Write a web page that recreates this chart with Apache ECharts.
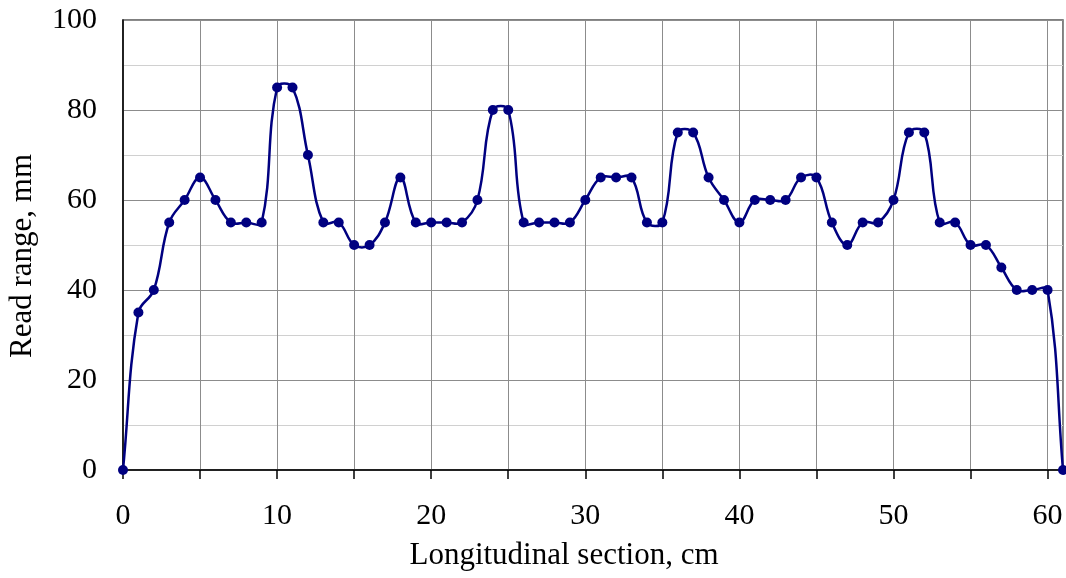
<!DOCTYPE html>
<html>
<head>
<meta charset="utf-8">
<script src="https://cdn.jsdelivr.net/npm/echarts@6/dist/echarts.min.js"></script>
<style>
  html, body { margin: 0; padding: 0; background: #fff; }
  #chart { width: 1066px; height: 578px; }
</style>
</head>
<body>
<div id="chart"></div>
<script>
// Read range measured along the longitudinal section (cm -> mm)
const positions = [
  0, 1, 2, 3, 4, 5, 6, 7, 8, 9, 10, 11, 12, 13, 14, 15, 16, 17, 18, 19, 20,
  21, 22, 23, 24, 25, 26, 27, 28, 29, 30, 31, 32, 33, 34, 35, 36, 37, 38, 39, 40,
  41, 42, 43, 44, 45, 46, 47, 48, 49, 50, 51, 52, 53, 54, 55, 56, 57, 58, 59, 60, 61
];
const readRange = [
  0, 35, 40, 55, 60, 65, 60, 55, 55, 55, 85, 85, 70, 55, 55, 50, 50, 55, 65, 55, 55,
  55, 55, 60, 80, 80, 55, 55, 55, 55, 60, 65, 65, 65, 55, 55, 75, 75, 65, 60, 55,
  60, 60, 60, 65, 65, 55, 50, 55, 55, 60, 75, 75, 55, 55, 50, 50, 45, 40, 40, 40, 0
];
const xTickLabels = [0, 10, 20, 30, 40, 50, 60];
const yTickLabels = [0, 20, 40, 60, 80, 100];

const FONT = '"Liberation Serif", "Times New Roman", serif';
const LINE_COLOR = '#000080';
const SMOOTH = 0.4;   // tangent scale of the spline

const points = positions.map((x, i) => [x, readRange[i]]);
const n = points.length;

function dist(a, b) {
  return Math.hypot(b[0] - a[0], b[1] - a[1]);
}

// Each item draws the smoothed segment from its point to the next one.
// Tangents follow the neighbouring points, weighted by segment lengths in pixels.
function renderSegment(params, api) {
  const i = params.dataIndex;
  if (i >= n - 1) return null;
  const p0 = api.coord(points[Math.max(i - 1, 0)]);
  const p1 = api.coord(points[i]);
  const p2 = api.coord(points[i + 1]);
  const p3 = api.coord(points[Math.min(i + 2, n - 1)]);
  const d01 = dist(p0, p1), d12 = dist(p1, p2), d23 = dist(p2, p3);
  const k1 = SMOOTH * d12 / (d01 + d12 || 1);
  const k2 = SMOOTH * d12 / (d12 + d23 || 1);
  return {
    type: 'bezierCurve',
    shape: {
      x1: p1[0], y1: p1[1],
      x2: p2[0], y2: p2[1],
      cpx1: p1[0] + (p2[0] - p0[0]) * k1,
      cpy1: p1[1] + (p2[1] - p0[1]) * k1,
      cpx2: p2[0] - (p3[0] - p1[0]) * k2,
      cpy2: p2[1] - (p3[1] - p1[1]) * k2
    },
    style: { stroke: LINE_COLOR, lineWidth: 2.5, fill: null },
    silent: true
  };
}

const chart = echarts.init(document.getElementById('chart'), null, { renderer: 'canvas' });

chart.setOption({
  backgroundColor: '#ffffff',
  animation: false,
  grid: {
    left: 123, right: 3, top: 20, bottom: 108,
    show: true, borderColor: '#555', borderWidth: 1.5
  },
  xAxis: {
    type: 'value',
    min: 0, max: 61, interval: 5,
    axisLine: { show: true, onZero: false, lineStyle: { color: '#000', width: 1.5 } },
    axisTick: { show: true, inside: false, length: 9, lineStyle: { color: '#000', width: 1.5 } },
    axisLabel: {
      margin: 31,
      color: '#000',
      fontFamily: FONT,
      fontSize: 30,
      showMaxLabel: false,
      formatter: v => xTickLabels.includes(v) ? String(v) : ''
    },
    splitLine: { show: true, lineStyle: { color: '#8c8c8c', width: 1 } }
  },
  yAxis: {
    type: 'value',
    min: 0, max: 100, interval: 10,
    axisLine: { show: true, lineStyle: { color: '#000', width: 1.5 } },
    axisTick: { show: false },
    axisLabel: {
      margin: 26,
      color: '#000',
      fontFamily: FONT,
      fontSize: 30,
      formatter: v => yTickLabels.includes(v) ? String(v) : ''
    },
    splitLine: { show: true, lineStyle: { color: ['#8c8c8c', '#d0d0d0'], width: 1 } }
  },
  graphic: [
    {
      type: 'text',
      x: 564, y: 556,
      style: {
        text: 'Longitudinal section, cm',
        fill: '#000',
        font: '31px ' + FONT,
        align: 'center',
        verticalAlign: 'middle'
      }
    },
    {
      type: 'text',
      x: 23, y: 256,
      rotation: Math.PI / 2,
      style: {
        text: 'Read range, mm',
        fill: '#000',
        font: '31px ' + FONT,
        align: 'center',
        verticalAlign: 'middle'
      }
    }
  ],
  series: [
    {
      type: 'custom',
      data: points,
      renderItem: renderSegment,
      clip: false,
      z: 2
    },
    {
      type: 'scatter',
      data: points,
      symbol: 'circle',
      symbolSize: 10,
      clip: false,
      itemStyle: { color: LINE_COLOR, opacity: 1 },
      z: 3
    }
  ]
});
</script>
</body>
</html>
